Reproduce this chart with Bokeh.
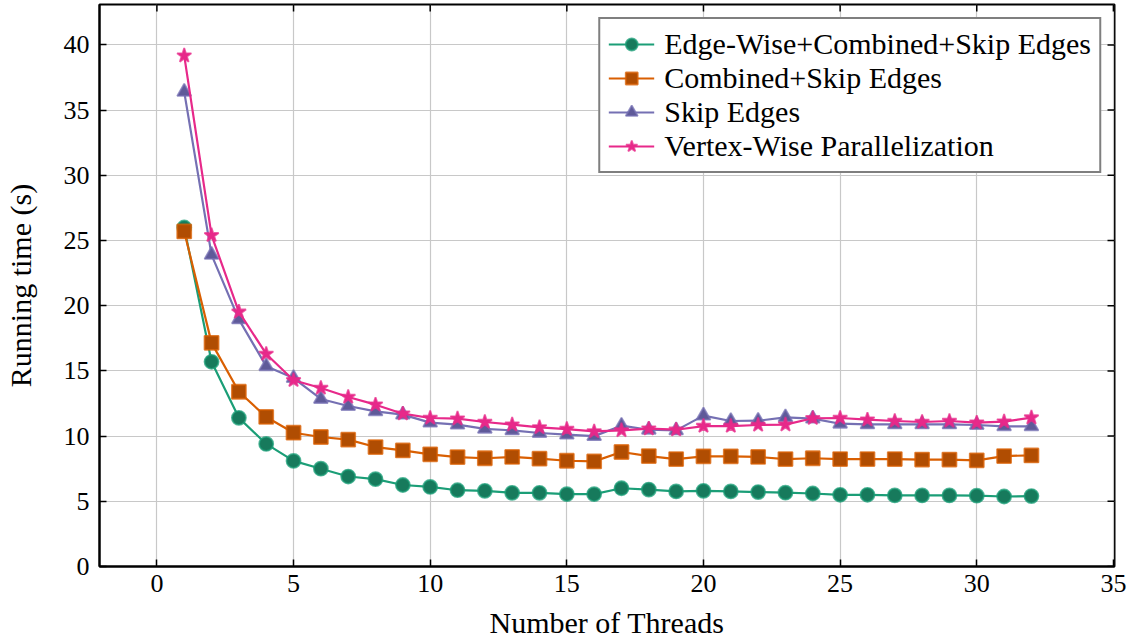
import math

from bokeh.plotting import figure
from bokeh.models import FixedTicker, Range1d
from bokeh.embed import file_html
from bokeh.resources import INLINE

# Thread counts and measured running times (seconds)
threads = list(range(1, 33))

edge_wise_combined_skip = [
    26.0, 15.7, 11.4, 9.4, 8.1, 7.5, 6.9, 6.7, 6.25, 6.1, 5.85, 5.8,
    5.65, 5.65, 5.55, 5.55, 6.0, 5.9, 5.76, 5.8, 5.76, 5.71, 5.66, 5.6,
    5.5, 5.5, 5.45, 5.45, 5.45, 5.43, 5.37, 5.4,
]
combined_skip = [
    25.7, 17.15, 13.4, 11.47, 10.26, 9.93, 9.73, 9.16, 8.9, 8.6, 8.39, 8.3,
    8.4, 8.27, 8.11, 8.06, 8.78, 8.47, 8.24, 8.45, 8.45, 8.4, 8.24, 8.3,
    8.24, 8.24, 8.24, 8.2, 8.2, 8.14, 8.47, 8.52,
]
skip_edges = [
    36.4, 23.9, 18.95, 15.36, 14.45, 12.85, 12.31, 11.9, 11.65, 11.03, 10.88, 10.56,
    10.44, 10.24, 10.11, 10.0, 10.8, 10.49, 10.44, 11.57, 11.16, 11.18, 11.44, 11.34,
    10.95, 10.9, 10.9, 10.9, 10.9, 10.85, 10.75, 10.75,
]
vertex_wise = [
    39.18, 25.4, 19.53, 16.3, 14.28, 13.69, 13.0, 12.41, 11.72, 11.39, 11.34, 11.08,
    10.88, 10.67, 10.54, 10.36, 10.44, 10.57, 10.49, 10.77, 10.77, 10.85, 10.88, 11.37,
    11.39, 11.26, 11.16, 11.08, 11.16, 11.03, 11.11, 11.42,
]

series_labels = [
    "Edge-Wise+Combined+Skip Edges",
    "Combined+Skip Edges",
    "Skip Edges",
    "Vertex-Wise Parallelization",
]
x_ticks = [0, 5, 10, 15, 20, 25, 30, 35]
y_ticks = [0, 5, 10, 15, 20, 25, 30, 35, 40]

X_MIN, X_MAX = -2.1, 35.04
Y_MIN, Y_MAX = 0.0, 43.1

FONT = "Liberation Serif"

p = figure(
    width=1133, height=641,
    output_backend="svg", toolbar_location=None,
    x_range=Range1d(X_MIN, X_MAX), y_range=Range1d(Y_MIN, Y_MAX),
    min_border_left=98, min_border_right=19,
    min_border_top=4, min_border_bottom=75,
    background_fill_color="white", border_fill_color="white",
)
p.outline_line_color = "black"
p.outline_line_width = 2

# Grid
for g in (p.xgrid, p.ygrid):
    g.grid_line_color = "#c8c8c8"
    g.grid_line_width = 1.2
p.xgrid.ticker = FixedTicker(ticks=x_ticks)
p.ygrid.ticker = FixedTicker(ticks=y_ticks)

# Axes with inward ticks
p.xaxis.ticker = FixedTicker(ticks=x_ticks)
p.yaxis.ticker = FixedTicker(ticks=y_ticks)
p.xaxis.axis_label = "Number of Threads"
p.yaxis.axis_label = "Running time (s)"
for ax in (p.xaxis[0], p.yaxis[0]):
    ax.axis_line_color = "black"
    ax.axis_line_width = 2
    ax.major_tick_in = 7
    ax.major_tick_out = 0
    ax.major_tick_line_width = 1.5
    ax.minor_tick_line_color = None
    ax.major_label_text_font = FONT
    ax.major_label_text_font_size = "26px"
    ax.major_label_text_color = "black"
    ax.axis_label_text_font = FONT
    ax.axis_label_text_font_size = "30px"
    ax.axis_label_text_font_style = "normal"
    ax.axis_label_text_color = "black"
p.xaxis.major_label_standoff = 8
p.xaxis.axis_label_standoff = 11
p.yaxis.major_label_standoff = 10
p.yaxis.axis_label_standoff = 24

# Mirrored inward ticks along the top and right edges of the frame
p.scatter(x_ticks, [Y_MAX] * len(x_ticks), marker="dash", angle=math.pi / 2,
          size=14, line_color="black", line_width=1.5)
p.scatter([X_MAX] * len(y_ticks), y_ticks, marker="dash",
          size=14, line_color="black", line_width=1.5)

styles = [
    (edge_wise_combined_skip, "#1b9e77", "#177a5c", "circle", 14),
    (combined_skip, "#d95f02", "#b04d02", "square", 14),
    (skip_edges, "#7570b3", "#5f5a99", "triangle", 14),
    (vertex_wise, "#e7298a", "#e7298a", "star", 15),
]

for (vals, color, dark, marker, size), label in zip(styles, series_labels):
    p.line(threads, vals, line_color=color, line_width=2.2, legend_label=label)
    p.scatter(threads, vals, marker=marker, size=size,
              fill_color=dark, line_color=color, line_alpha=0.75,
              line_width=1.8, legend_label=label)

leg = p.legend[0]
leg.location = "top_right"
leg.margin = 13
leg.border_line_color = "black"
leg.border_line_width = 2
leg.background_fill_color = "white"
leg.background_fill_alpha = 1
leg.label_text_font = FONT
leg.label_text_font_size = "30px"
leg.label_text_color = "black"
leg.glyph_width = 46
leg.glyph_height = 30
leg.label_height = 30
leg.spacing = 0
leg.padding = 8
leg.label_standoff = 10

open("out.html", "w").write(file_html(p, INLINE))
